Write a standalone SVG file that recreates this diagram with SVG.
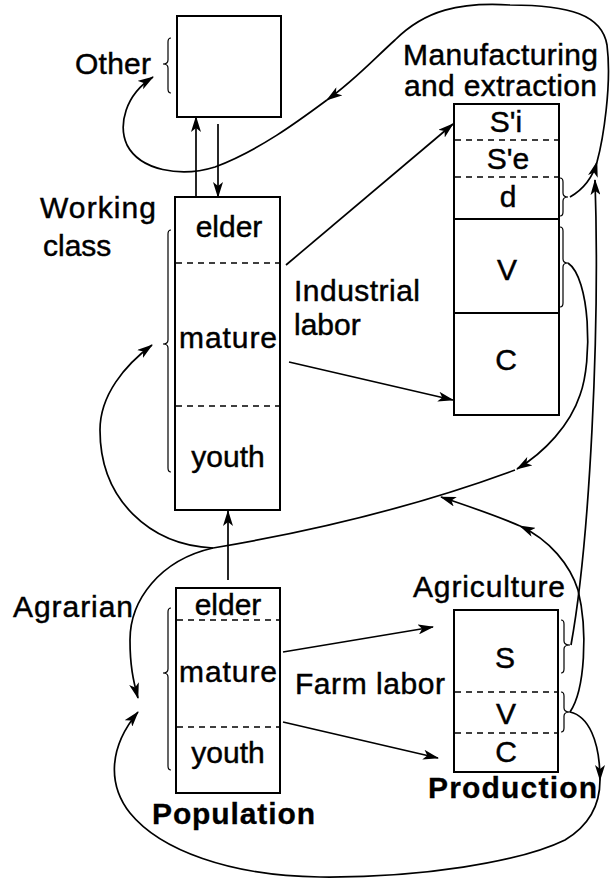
<svg xmlns="http://www.w3.org/2000/svg" width="613" height="881" viewBox="0 0 613 881">
<style>
text{font-family:"Liberation Sans",Arial,Helvetica,sans-serif;font-size:30px;fill:#000;stroke:#000;stroke-width:0.45}
.b{font-weight:bold;stroke-width:0.3}
.m{text-anchor:middle}
.box{fill:#fff;stroke:#000;stroke-width:2}
.sol{stroke:#000;stroke-width:1.8}
.dash{stroke:#000;stroke-width:1.5;stroke-dasharray:6 5}
.br{fill:none;stroke:#000;stroke-width:1.2}
.c{fill:none;stroke:#000;stroke-width:1.7}
.a{marker-end:url(#ah)}
</style>
<defs>
<marker id="ah" markerUnits="userSpaceOnUse" viewBox="0 0 16 10" refX="15" refY="5" markerWidth="16" markerHeight="10" orient="auto">
<path d="M0,0 L16,5 L0,10 L4,5 Z" fill="#000"/>
</marker>
</defs>
<rect width="613" height="881" fill="#fff"/>

<g id="connectors">
<path class="c a" d="M196,197 L196,117"/>
<path class="c a" d="M218,124 L218,197"/>
<path class="c a" d="M228,580 L228,511"/>
<path class="c a" d="M286,265 L453,124"/>
<path class="c a" d="M289,362 L453,400"/>
<path class="c a" d="M283,652 L433,627"/>
<path class="c a" d="M283,722 L438,758"/>
<path class="c a" d="M570,197 C584,189 593,176 597,162"/>
<path class="c a" d="M597,162 C603,140 612,85 607,45 C602,15 570,5 510,5 C460,2 425,10 395,40 C375,58 355,80 327,100"/>
<path class="c a" d="M327,100 C300,120 260,150 215,167 C180,178 140,170 127,145 C118,125 125,95 153,77"/>
<path class="c a" d="M568,263 C590,278 593,360 580,395 C570,425 545,452 517,469"/>
<path class="c" d="M515,470 Q380,520 213,548"/>
<path class="c a" d="M213,548 C150,545 100,500 100,430 C100,395 125,365 152,345"/>
<path class="c a" d="M213,548 C160,560 130,600 130,640 C130,665 133,680 138,698"/>
<path class="c a" d="M570,712 C585,690 588,630 578,590 C570,565 550,540 520,526"/>
<path class="c a" d="M520,526 C495,515 465,505 441,497"/>
<path class="c a" d="M571,645 C590,540 600,330 595,180"/>
<path class="c a" d="M570,712 C588,716 600,740 600,780"/>
<path class="c a" d="M600,780 C600,805 590,825 565,840 C520,862 420,878 320,877 C230,876 160,850 130,813 C108,785 108,748 138,712"/>
</g>

<g id="other">
<rect class="box" x="177" y="16" width="104" height="101"/>
<path class="br" d="M171,38 Q168,38 168,42 L168,60 Q168,64 163,64 Q168,64 168,68 L168,89 Q168,93 171,93"/>
<text x="75" y="74" textLength="76" lengthAdjust="spacing">Other</text>
</g>

<g id="working-class">
<rect class="box" x="175" y="197" width="105" height="313"/>
<line class="dash" x1="176" y1="263" x2="279" y2="263"/>
<line class="dash" x1="176" y1="406" x2="279" y2="406"/>
<text class="m" x="229" y="237">elder</text>
<text class="m" x="228" y="348" textLength="98" lengthAdjust="spacing">mature</text>
<text class="m" x="228" y="467">youth</text>
<path class="br" d="M171,230 Q168,230 168,234 L168,340 Q168,344 163,344 Q168,344 168,348 L168,468 Q168,472 171,472"/>
<text x="40" y="218" textLength="116" lengthAdjust="spacing">Working</text>
<text x="43" y="256">class</text>
</g>

<g id="industrial-labor-label">
<text x="294" y="301" textLength="126" lengthAdjust="spacing">Industrial</text>
<text x="294" y="335">labor</text>
</g>

<g id="manufacturing">
<rect class="box" x="454" y="104" width="105" height="311"/>
<line class="dash" x1="455" y1="140" x2="558" y2="140"/>
<line class="dash" x1="455" y1="177" x2="558" y2="177"/>
<line class="sol" x1="454" y1="219" x2="559" y2="219"/>
<line class="sol" x1="454" y1="313" x2="559" y2="313"/>
<text class="m" x="506" y="132">S'i</text>
<text class="m" x="508" y="169">S'e</text>
<text class="m" x="508" y="207">d</text>
<text class="m" x="507" y="280">V</text>
<text class="m" x="506" y="370">C</text>
<path class="br" d="M560,178 Q563,178 563,182 L563,193 Q563,197 568,197 Q563,197 563,201 L563,212 Q563,216 560,216"/>
<path class="br" d="M560,227 Q563,227 563,231 L563,259 Q563,263 568,263 Q563,263 563,267 L563,303 Q563,307 560,307"/>
<text x="403" y="65" textLength="195" lengthAdjust="spacing">Manufacturing</text>
<text x="404" y="96" textLength="193" lengthAdjust="spacing">and extraction</text>
</g>

<g id="population">
<rect class="box" x="176" y="588" width="104" height="205"/>
<line class="dash" x1="177" y1="620" x2="279" y2="620"/>
<line class="dash" x1="177" y1="727" x2="279" y2="727"/>
<text class="m" x="228" y="615">elder</text>
<text class="m" x="228" y="682" textLength="98" lengthAdjust="spacing">mature</text>
<text class="m" x="228" y="763">youth</text>
<path class="br" d="M171,608 Q168,608 168,612 L168,669 Q168,673 163,673 Q168,673 168,677 L168,766 Q168,770 171,770"/>
<text class="b" x="152" y="824" textLength="163" lengthAdjust="spacing">Population</text>
<text x="13" y="617" textLength="120" lengthAdjust="spacing">Agrarian</text>
</g>

<g id="farm-labor-label">
<text x="295" y="694" textLength="150" lengthAdjust="spacing">Farm labor</text>
</g>

<g id="agriculture">
<rect class="box" x="454" y="610" width="104" height="162"/>
<line class="dash" x1="455" y1="692" x2="557" y2="692"/>
<line class="dash" x1="455" y1="733" x2="557" y2="733"/>
<text class="m" x="505" y="668">S</text>
<text class="m" x="506" y="724">V</text>
<text class="m" x="506" y="762">C</text>
<path class="br" d="M561,620 Q564,620 564,624 L564,641 Q564,645 570,645 Q564,645 564,649 L564,669 Q564,673 561,673"/>
<path class="br" d="M561,692 Q564,692 564,696 L564,708 Q564,712 570,712 Q564,712 564,716 L564,728 Q564,732 561,732"/>
<text x="413" y="597" textLength="152" lengthAdjust="spacing">Agriculture</text>
<text class="b" x="428" y="798" textLength="169" lengthAdjust="spacing">Production</text>
</g>
</svg>
